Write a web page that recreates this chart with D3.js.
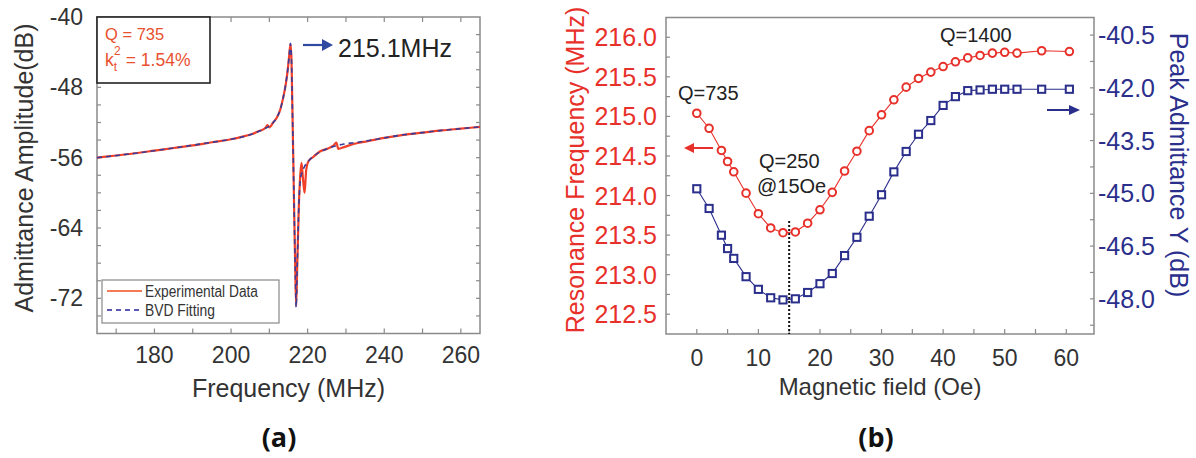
<!DOCTYPE html>
<html><head><meta charset="utf-8">
<script src="https://cdn.jsdelivr.net/npm/d3@7"></script>
<style>
body{margin:0;background:#fff}
svg{display:block}
text{font-family:"Liberation Sans",Arial,Helvetica,sans-serif}
</style>
</head><body>
<svg id="c" width="1196" height="458"></svg>
<script>
// ---------- Panel (a) data ----------
const freqExp = [165,170,175,180,185,190,195,200,203,205.5,207.5,209.0,209.5,210.0,211.0,212.0,212.8,213.6,214.3,214.8,215.2,215.5,215.75,216.0,216.4,216.8,217.0,217.3,217.7,218.1,218.4,218.8,219.2,219.6,220.2,221.5,223.2,225.0,226.8,227.5,228.0,229.5,232,236,240,245,250,255,260,265];
const ampExp  = [-56.0,-55.75,-55.5,-55.2,-54.9,-54.6,-54.25,-53.9,-53.6,-53.3,-52.95,-52.6,-52.3,-52.55,-52.0,-51.4,-50.6,-49.2,-47.6,-46.0,-44.3,-43.1,-44.5,-50.0,-60.0,-69.5,-72.8,-68.0,-61.5,-57.8,-56.6,-58.5,-60.0,-57.5,-56.4,-55.9,-55.3,-55.0,-54.6,-54.3,-55.0,-54.8,-54.45,-54.1,-53.75,-53.4,-53.15,-52.9,-52.7,-52.5];
const freqFit = [165,175,185,195,200,205,208,210,211,212,212.8,213.6,214.3,214.8,215.2,215.5,215.75,216.0,216.4,216.8,217.0,217.3,217.7,218.1,218.6,219.2,220.2,221.5,223.2,225,227,229.5,232,236,240,245,250,255,260,265];
const ampFit  = [-56.0,-55.5,-54.9,-54.25,-53.9,-53.4,-52.85,-52.4,-52.0,-51.4,-50.6,-49.2,-47.6,-46.0,-44.3,-43.0,-44.5,-50.0,-60.0,-69.5,-73.0,-68.0,-61.5,-58.5,-57.6,-57.0,-56.4,-55.85,-55.35,-55.0,-54.7,-54.45,-54.3,-54.05,-53.75,-53.4,-53.15,-52.9,-52.7,-52.5];
const xTicksA = [180,200,220,240,260];
const yTicksA = [-40,-48,-56,-64,-72];
const legendA = ["Experimental Data","BVD Fitting"];

// ---------- Panel (b) data ----------
const field   = [0,2,4,5,6,8,10,12,14,16,18,20,22,24,26,28,30,32,34,36,38,40,42,44,46,48,50,52,56,60.5];
const resFreq = [215.04,214.85,214.57,214.43,214.30,214.03,213.77,213.59,213.53,213.54,213.65,213.82,214.04,214.31,214.56,214.82,215.02,215.21,215.37,215.48,215.56,215.63,215.69,215.74,215.77,215.80,215.81,215.80,215.83,215.82];
const peakY   = [-44.87,-45.43,-46.19,-46.57,-46.85,-47.37,-47.73,-47.97,-48.03,-48.0,-47.82,-47.57,-47.28,-46.77,-46.25,-45.65,-45.04,-44.39,-43.81,-43.32,-42.93,-42.50,-42.25,-42.08,-42.06,-42.04,-42.04,-42.04,-42.04,-42.04];
const xTicksB = [0,10,20,30,40,50,60];
const yTicksBL = [216.0,215.5,215.0,214.5,214.0,213.5,213.0,212.5];
const yTicksBR = [-40.5,-42.0,-43.5,-45.0,-46.5,-48.0];

const svg = d3.select("#c");
const axisCol = "#8a8a8a", txtCol = "#333";

// ================= Panel (a) =================
const A = {l:97, r:480, t:17, b:333.5};
const xa = d3.scaleLinear().domain([165,265]).range([A.l,A.r]);
const ya = d3.scaleLinear().domain([-76,-40]).range([A.b,A.t]);
const ga = svg.append("g");

function ticksIn(g, scale, vals, len, orient, pos){
  vals.forEach(v=>{
    const p = scale(v);
    if(orient==="bottom") g.append("line").attr("x1",p).attr("x2",p).attr("y1",pos).attr("y2",pos-len);
    if(orient==="top") g.append("line").attr("x1",p).attr("x2",p).attr("y1",pos).attr("y2",pos+len);
    if(orient==="left") g.append("line").attr("y1",p).attr("y2",p).attr("x1",pos).attr("x2",pos+len);
    if(orient==="right") g.append("line").attr("y1",p).attr("y2",p).attr("x1",pos).attr("x2",pos-len);
  });
  g.selectAll("line").attr("stroke",axisCol).attr("stroke-width",1.2);
}
const tkA = ga.append("g");
ticksIn(tkA, xa, d3.range(170,265,10), 5, "bottom", A.b);
ticksIn(tkA, xa, d3.range(170,265,10), 5, "top", A.t);
ticksIn(tkA, ya, d3.range(-74,-40,2), 4, "left", A.l);
ticksIn(tkA, ya, d3.range(-74,-40,2), 4, "right", A.r);
ga.append("rect").attr("x",A.l).attr("y",A.t).attr("width",A.r-A.l).attr("height",A.b-A.t)
  .attr("fill","none").attr("stroke",axisCol).attr("stroke-width",1.5);

ga.selectAll(".xl").data(xTicksA).join("text").attr("x",d=>xa(d)).attr("y",363)
  .attr("text-anchor","middle").attr("font-size",23).attr("fill",txtCol).text(d=>d);
ga.selectAll(".yl").data(yTicksA).join("text").attr("x",83).attr("y",d=>ya(d)+8)
  .attr("text-anchor","end").attr("font-size",23).attr("fill",txtCol).text(d=>d);
ga.append("text").attr("x",(A.l+A.r)/2).attr("y",397).attr("text-anchor","middle")
  .attr("font-size",25).attr("fill",txtCol).text("Frequency (MHz)");
ga.append("text").attr("transform","translate(33,168) rotate(-90)").attr("text-anchor","middle")
  .attr("font-size",25).attr("fill",txtCol).text("Admittance Amplitude(dB)");

const lineA = d3.line().x(d=>xa(d[0])).y(d=>ya(d[1])).curve(d3.curveMonotoneX);
ga.append("path").datum(d3.zip(freqExp,ampExp)).attr("d",lineA)
  .attr("fill","none").attr("stroke","#f0402a").attr("stroke-width",2.2);
ga.append("path").datum(d3.zip(freqFit,ampFit)).attr("d",lineA)
  .attr("fill","none").attr("stroke","#3a3c9a").attr("stroke-width",1.6).attr("stroke-dasharray","5,4");

// info box
ga.append("rect").attr("x",A.l).attr("y",A.t).attr("width",113).attr("height",66)
  .attr("fill","#fff").attr("stroke","#222").attr("stroke-width",1.6);
const infoCol = "#e8502e";
ga.append("text").attr("x",105).attr("y",40).attr("font-size",16.5).attr("fill",infoCol).text("Q = 735");
const kt = ga.append("text").attr("x",105).attr("y",66).attr("font-size",17.5).attr("fill",infoCol);
kt.append("tspan").text("k");
kt.append("tspan").attr("font-size",12).attr("dy",5).text("t");
kt.append("tspan").attr("font-size",12).attr("dx",-3).attr("dy",-16).text("2");
kt.append("tspan").attr("dy",11).attr("dx",5).text("= 1.54%");

// arrow + label
const blueA = "#2f4aa0";
ga.append("line").attr("x1",303).attr("x2",324).attr("y1",45).attr("y2",45).attr("stroke",blueA).attr("stroke-width",2.2);
ga.append("path").attr("d","M322,39 L333,45 L322,51 Z").attr("fill",blueA);
ga.append("text").attr("x",338).attr("y",57).attr("font-size",25).attr("fill","#222").text("215.1MHz");

// legend
ga.append("rect").attr("x",102).attr("y",280).attr("width",177).attr("height",43)
  .attr("fill","#fff").attr("stroke","#888").attr("stroke-width",1.2);
ga.append("line").attr("x1",107).attr("x2",142).attr("y1",291).attr("y2",291).attr("stroke","#f47a58").attr("stroke-width",1.8);
ga.append("line").attr("x1",107).attr("x2",143).attr("y1",310).attr("y2",310).attr("stroke","#5a5ab4").attr("stroke-width",1.8).attr("stroke-dasharray","5,4");
const lgLen = [113,70];
ga.selectAll(".lg").data(legendA).join("text").attr("x",145).attr("y",(d,i)=>297+i*19)
  .attr("font-size",16).attr("fill",txtCol)
  .attr("textLength",(d,i)=>lgLen[i]).attr("lengthAdjust","spacingAndGlyphs").text(d=>d);

ga.append("text").attr("x",279).attr("y",447).attr("text-anchor","middle").attr("font-size",27)
  .attr("font-weight","bold").attr("fill","#111").style("font-family",'"Open Sans","DejaVu Sans",sans-serif').text("(a)");

// ================= Panel (b) =================
const B = {l:666, r:1094, t:17.5, b:334};
const xb = d3.scaleLinear().domain([-5,64.5]).range([B.l,B.r]);
const ybl = d3.scaleLinear().domain([212.25,216.25]).range([B.b,B.t]);
const ybr = d3.scaleLinear().domain([-49,-40]).range([B.b,B.t]);
const gb = svg.append("g");
const tkB = gb.append("g");
ticksIn(tkB, xb, d3.range(0,61,5), 5, "bottom", B.b);
ticksIn(tkB, ybl, d3.range(212.5,216.1,0.25), 4, "left", B.l);
ticksIn(tkB, ybr, d3.range(-48.75,-40.2,0.75), 4, "right", B.r);
gb.append("rect").attr("x",B.l).attr("y",B.t).attr("width",B.r-B.l).attr("height",B.b-B.t)
  .attr("fill","none").attr("stroke",axisCol).attr("stroke-width",1.5);

const redB = "#e8302a", blueB = "#2b2f8c";
gb.selectAll(".xl").data(xTicksB).join("text").attr("x",d=>xb(d)).attr("y",366)
  .attr("text-anchor","middle").attr("font-size",23).attr("fill",txtCol).text(d=>d);
gb.selectAll(".yl").data(yTicksBL).join("text").attr("x",657).attr("y",d=>ybl(d)+9)
  .attr("text-anchor","end").attr("font-size",25).attr("fill",redB).text(d=>d.toFixed(1));
gb.selectAll(".yr").data(yTicksBR).join("text").attr("x",1098).attr("y",d=>ybr(d)+9)
  .attr("text-anchor","start").attr("font-size",25).attr("fill",blueB).text(d=>d.toFixed(1));
gb.append("text").attr("x",(B.l+B.r)/2).attr("y",395).attr("text-anchor","middle")
  .attr("font-size",24).attr("fill",txtCol).text("Magnetic field (Oe)");
gb.append("text").attr("transform","translate(584,170) rotate(-90)").attr("text-anchor","middle")
  .attr("font-size",25).attr("fill",redB).text("Resonance Frequency (MHz)");
gb.append("text").attr("transform","translate(1170,165) rotate(90)").attr("text-anchor","middle")
  .attr("font-size",25).attr("fill",blueB).text("Peak Admittance Y (dB)");

// dotted line at 15 Oe
gb.append("line").attr("x1",xb(15)).attr("x2",xb(15)).attr("y1",221).attr("y2",B.b)
  .attr("stroke","#111").attr("stroke-width",2).attr("stroke-dasharray","2,2");

// blue series
gb.append("path").datum(d3.zip(field,peakY)).attr("d",d3.line().x(d=>xb(d[0])).y(d=>ybr(d[1])))
  .attr("fill","none").attr("stroke",blueB).attr("stroke-width",1.1);
gb.selectAll(".sq").data(d3.zip(field,peakY)).join("rect")
  .attr("x",d=>xb(d[0])-3.6).attr("y",d=>ybr(d[1])-3.6).attr("width",7.2).attr("height",7.2)
  .attr("fill","#fff").attr("stroke",blueB).attr("stroke-width",2);
// red series
gb.append("path").datum(d3.zip(field,resFreq)).attr("d",d3.line().x(d=>xb(d[0])).y(d=>ybl(d[1])))
  .attr("fill","none").attr("stroke",redB).attr("stroke-width",1.1);
gb.selectAll(".ci").data(d3.zip(field,resFreq)).join("circle")
  .attr("cx",d=>xb(d[0])).attr("cy",d=>ybl(d[1])).attr("r",3.8)
  .attr("fill","#fff").attr("stroke",redB).attr("stroke-width",2);

// annotations
const ann = [["Q=735",678,100],["Q=250",759,168],["@15Oe",757,193],["Q=1400",940,42]];
gb.selectAll(".an").data(ann).join("text").attr("x",d=>d[1]).attr("y",d=>d[2])
  .attr("font-size",20).attr("fill","#222").text(d=>d[0]);
// arrows
gb.append("line").attr("x1",692).attr("x2",713).attr("y1",148).attr("y2",148).attr("stroke",redB).attr("stroke-width",2);
gb.append("path").attr("d","M694,143 L684,148 L694,153 Z").attr("fill",redB);
gb.append("line").attr("x1",1047).attr("x2",1071).attr("y1",110).attr("y2",110).attr("stroke",blueB).attr("stroke-width",2);
gb.append("path").attr("d","M1069,105 L1080,110 L1069,115 Z").attr("fill",blueB);

gb.append("text").attr("x",876).attr("y",447).attr("text-anchor","middle").attr("font-size",27)
  .attr("font-weight","bold").attr("fill","#111").style("font-family",'"Open Sans","DejaVu Sans",sans-serif').text("(b)");
</script>
</body></html>
